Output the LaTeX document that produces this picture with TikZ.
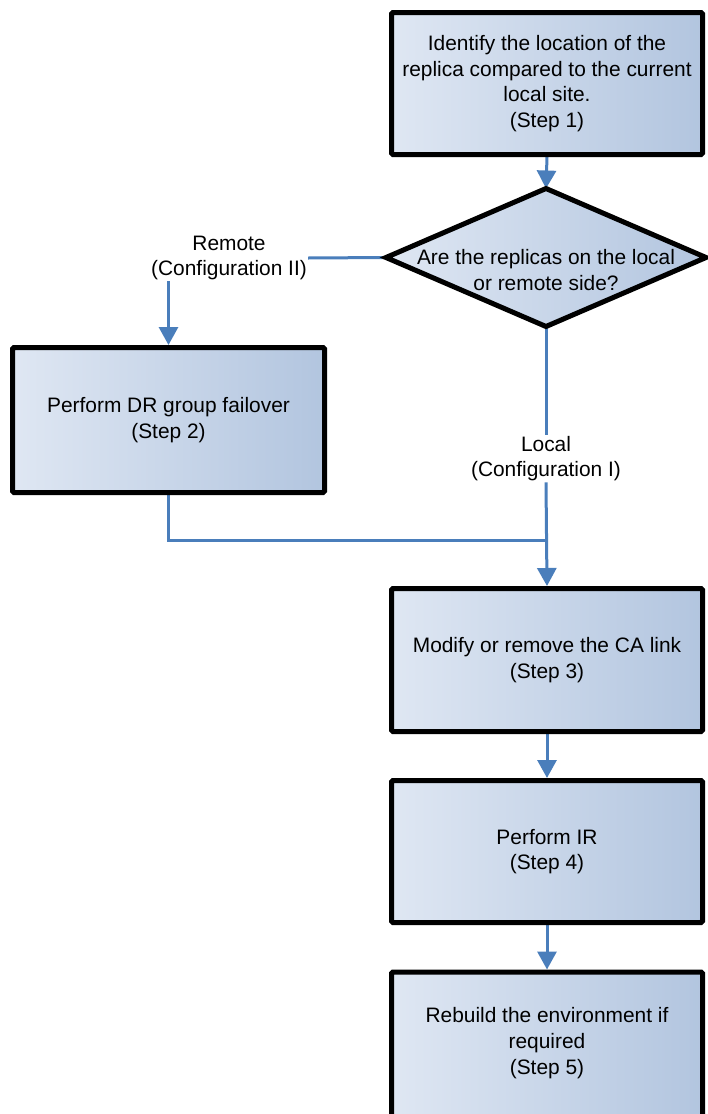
\documentclass[tikz,border=0pt]{standalone}
\usepackage{fontspec}
\setmainfont{Liberation Sans}
\usetikzlibrary{arrows.meta,shapes.geometric,backgrounds}
\definecolor{lnblue}{HTML}{4A7EBB}
\definecolor{shlight}{HTML}{DFE7F3}
\definecolor{shdark}{HTML}{B2C5DF}
\begin{document}
\begin{tikzpicture}[x=1pt,y=-1pt,
  txt/.style={font=\fontsize{20.9}{25.7}\selectfont, align=center, text=black},
  stepbox/.style={txt, draw=black, line width=5pt, rounded corners=1.5pt,
    left color=shlight, right color=shdark,
    minimum width=311pt, minimum height=142pt, inner sep=0pt},
  decision/.style={draw=black, line width=5pt, shape=diamond,
    left color=shlight, right color=shdark,
    minimum width=320pt, minimum height=138pt, inner sep=0pt, outer sep=0pt},
  lbl/.style={txt, inner sep=1pt},
  conn/.style={draw=lnblue, line width=3pt},
  arr/.style={conn, -{Triangle[length=18pt,width=19pt]}}
]
\useasboundingbox (0,0) rectangle (708,1114);

\node[stepbox] (b1) at (547,83.5) {Identify the location of the\\replica compared to the current\\local site.\\(Step 1)};
\node[decision] (d) at (546,257.5) {};
\node[txt] (dt) at (546,270) {Are the replicas on the local\\or remote side?};
\node[lbl] (rl) at (229,258) {Remote\\(Configuration II)};
\node[stepbox, minimum width=312pt, minimum height=145pt] (b2) at (168.5,420) {Perform DR group failover\\(Step 2)};
\node[lbl] (ll) at (546,458.5) {Local\\(Configuration I)};
\coordinate (j) at (546,540);
\node[stepbox, minimum height=143pt] (b3) at (547,660) {Modify or remove the CA link\\(Step 3)};
\node[stepbox] (b4) at (547,851.5) {Perform IR\\(Step 4)};
\node[stepbox, minimum height=152pt] (b5) at (547,1048) {};
\node[txt] (b5t) at (547,1043) {Rebuild the environment if\\required\\(Step 5)};

\begin{scope}[on background layer]
\draw[arr] (b1.south) -- (d.north);
\draw[conn] (d.west) -- (rl.east);
\draw[arr] (rl.south -| b2.north) -- (b2.north);
\draw[conn] (d.south) -- (ll.north);
\draw[arr] (ll.south) -- (b3.north);
\draw[conn] (b2.south) |- (j);
\draw[arr] (b3.south) -- (b4.north);
\draw[arr] (b4.south) -- (b5.north);
\end{scope}
\end{tikzpicture}
\end{document}
